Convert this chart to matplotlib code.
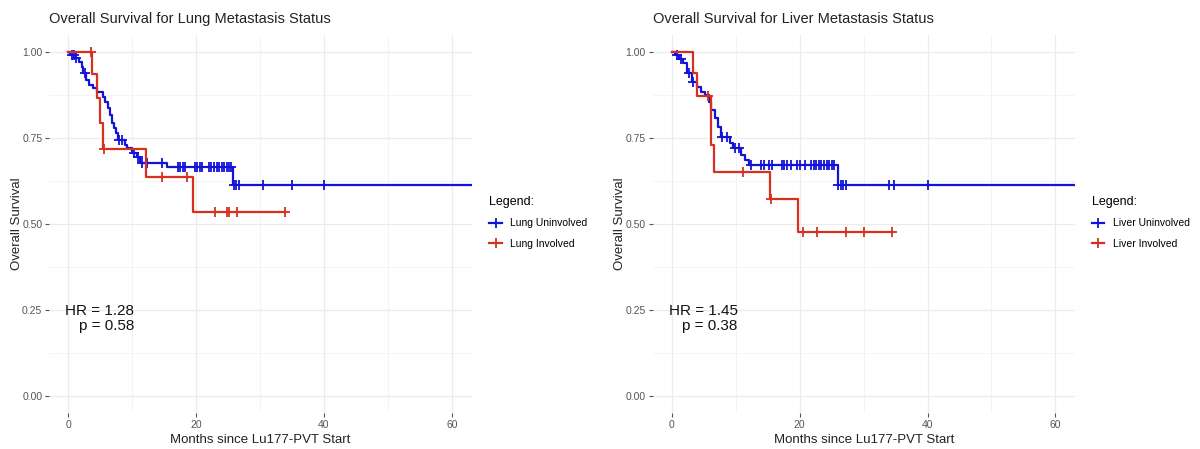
import numpy as np
import matplotlib.pyplot as plt
from matplotlib.lines import Line2D

plt.rcParams['font.family'] = ['Liberation Sans', 'DejaVu Sans']

BLUE = '#1212D8'
RED = '#D7301F'

# ---- Lung panel ----
lung_unv_times = [0.27, 1.05, 1.72, 2.09, 2.35, 2.77, 3.29, 3.81, 4.44, 5.48, 5.74,
                  6.26, 6.53, 6.79, 7.15, 7.46, 7.82, 8.87, 9.23, 9.92, 10.8, 11.22,
                  15.49, 25.72]
lung_unv_surv = [0.990, 0.981, 0.971, 0.957, 0.937, 0.918, 0.903, 0.894, 0.884, 0.869,
                 0.855, 0.836, 0.816, 0.792, 0.778, 0.763, 0.744, 0.729, 0.719, 0.705,
                 0.695, 0.678, 0.664, 0.612]
lung_unv_cens = [0.6, 0.9, 1.2, 2.6, 8.0, 8.4, 10.3, 10.9, 11.5, 12.3, 14.6, 17.2, 17.5,
                 17.9, 18.3, 19.8, 20.2, 20.6, 21.0, 22.0, 22.4, 22.8, 23.2, 23.6, 24.0,
                 24.4, 24.8, 25.2, 25.5, 26.0, 26.3, 26.7, 30.4, 35.0, 40.0]
lung_inv_times = [3.8, 4.44, 4.96, 5.38, 12.1, 19.6]
lung_inv_surv = [0.936, 0.865, 0.792, 0.718, 0.637, 0.533]
lung_inv_cens = [3.5, 5.6, 14.6, 18.6, 23.0, 24.8, 25.1, 26.4, 33.9]

# ---- Liver panel ----
liver_unv_times = [0.51, 1.19, 1.81, 2.34, 3.12, 3.89, 4.52, 5.19, 5.86, 6.07, 6.74,
                   7.26, 7.63, 9.08, 9.50, 10.9, 11.42, 12.09, 25.95]
liver_unv_surv = [0.990, 0.978, 0.966, 0.937, 0.913, 0.898, 0.884, 0.874, 0.855, 0.831,
                  0.807, 0.782, 0.753, 0.734, 0.719, 0.700, 0.685, 0.670, 0.614]
liver_unv_cens = [0.8, 1.4, 2.7, 3.3, 7.8, 8.6, 9.9, 10.5, 12.4, 14.0, 14.5, 15.2, 15.6,
                  17.2, 17.6, 18.0, 18.6, 19.6, 20.0, 20.9, 21.8, 22.2, 22.6, 23.0, 23.4,
                  23.8, 24.2, 24.6, 25.0, 25.3, 26.0, 26.4, 26.8, 27.2, 34.0, 34.8, 40.0]
liver_inv_times = [3.37, 4.0, 6.07, 6.59, 15.4, 19.7]
liver_inv_surv = [0.938, 0.872, 0.729, 0.652, 0.572, 0.477]
liver_inv_cens = [5.7, 11.2, 15.5, 20.5, 22.7, 27.3, 30.1, 34.5]

panels = [
    dict(title='Overall Survival for Lung Metastasis Status',
         labels=['Lung Uninvolved', 'Lung Involved'],
         unv=(lung_unv_times, lung_unv_surv, lung_unv_cens, 63.5),
         inv=(lung_inv_times, lung_inv_surv, lung_inv_cens, 33.9),
         hr='HR = 1.28\np = 0.58'),
    dict(title='Overall Survival for Liver Metastasis Status',
         labels=['Liver Uninvolved', 'Liver Involved'],
         unv=(liver_unv_times, liver_unv_surv, liver_unv_cens, 63.5),
         inv=(liver_inv_times, liver_inv_surv, liver_inv_cens, 34.5),
         hr='HR = 1.45\np = 0.38'),
]


def draw_km(ax, times, surv, cens, end, color):
    t = np.concatenate([[0.0], times, [end]])
    s = np.concatenate([[1.0], surv, [surv[-1]]])
    ax.step(t, s, where='post', color=color, lw=1.6)
    idx = np.searchsorted(t, cens, side='right') - 1
    ax.plot(cens, s[idx], '+', color=color, ms=7.5, mew=1.3)


fig = plt.figure(figsize=(12, 4.49), dpi=100)
positions = [[0.041, 0.080, 0.352, 0.843], [0.544, 0.080, 0.352, 0.843]]
legend_x = [0.400, 0.902]
ylabel_x = [-0.062, -0.064]

for p, pos, lx, yx in zip(panels, positions, legend_x, ylabel_x):
    ax = fig.add_axes(pos)
    draw_km(ax, *p['unv'], BLUE)
    draw_km(ax, *p['inv'], RED)
    ax.set_xlim(-2.97, 63.1)
    ax.set_ylim(-0.05, 1.05)
    ax.set_xticks([0, 20, 40, 60])
    ax.set_xticks([10, 30, 50], minor=True)
    ax.set_yticks([0, 0.25, 0.5, 0.75, 1.0])
    ax.set_yticks([0.125, 0.375, 0.625, 0.875], minor=True)
    ax.set_yticklabels(['0.00', '0.25', '0.50', '0.75', '1.00'])
    ax.grid(which='major', color='#EBEBEB', lw=0.9)
    ax.grid(which='minor', color='#F2F2F2', lw=0.6)
    ax.set_axisbelow(True)
    for sp in ax.spines.values():
        sp.set_visible(False)
    ax.tick_params(which='major', length=3, color='#555555', labelcolor='#555555',
                   labelsize=7.5, pad=2)
    ax.tick_params(which='minor', length=0)
    ax.set_xlabel('Months since Lu177-PVT Start', fontsize=9.5, color='#222222', labelpad=3)
    ax.set_ylabel('Overall Survival', fontsize=9.5, color='#222222')
    ax.yaxis.set_label_coords(yx, 0.5)
    ax.set_title(p['title'], loc='left', fontsize=10.5, color='#222222', pad=8)
    ax.text(10.3, 0.224, p['hr'], ha='right', va='center', fontsize=11,
            linespacing=1.1, color='#111111')

    handles = [Line2D([], [], color=BLUE, marker='+', ms=7.5, mew=1.3, lw=1.6),
               Line2D([], [], color=RED, marker='+', ms=7.5, mew=1.3, lw=1.6)]
    fig.legend(handles, p['labels'], title='Legend:', loc='center left',
               bbox_to_anchor=(lx, 0.505), frameon=False, fontsize=7.5,
               title_fontsize=9, handlelength=1.2, alignment='left',
               labelspacing=1.0)

fig.savefig('out.png', dpi=100)
